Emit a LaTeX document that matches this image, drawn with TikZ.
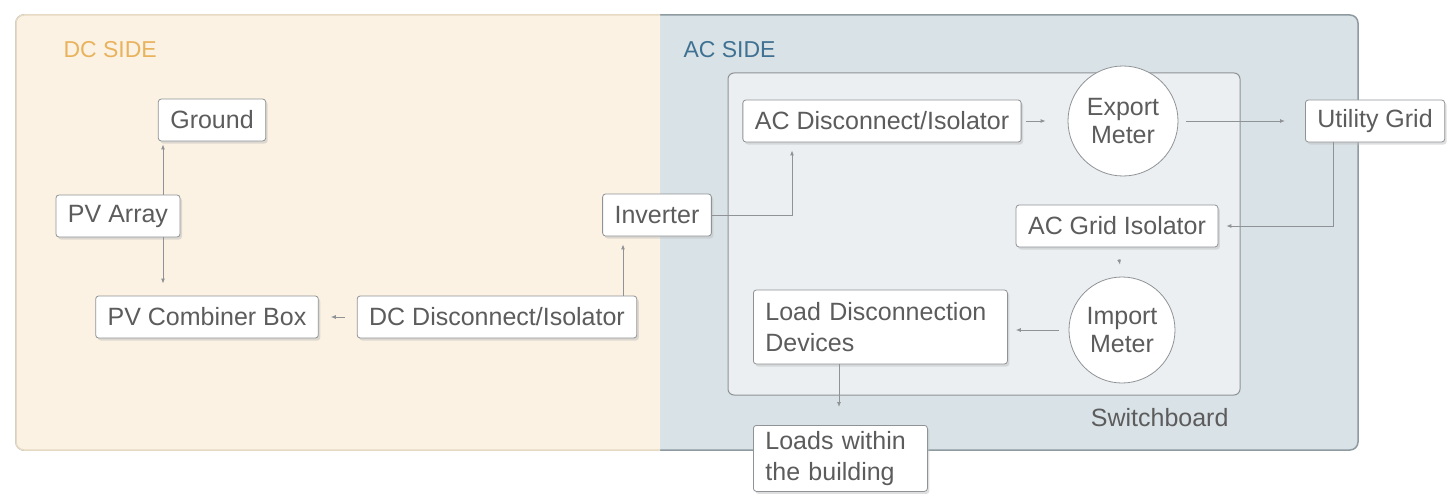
\documentclass[tikz,border=0pt]{standalone}
\usepackage{fontspec}
\setmainfont{Liberation Sans}
\usetikzlibrary{arrows.meta,shadows}
\definecolor{dcfill}{HTML}{FBF2E3}
\definecolor{dcedge}{HTML}{E6DAC4}
\definecolor{acfill}{HTML}{D9E2E6}
\definecolor{acedge}{HTML}{8E9BA1}
\definecolor{sbfill}{HTML}{EBEFF1}
\definecolor{txtgray}{HTML}{5C5C5C}
\definecolor{linegray}{HTML}{8F9396}
\definecolor{dctitle}{HTML}{E9B35E}
\definecolor{actitle}{HTML}{3F7192}
\tikzset{
  unit/.style={draw=linegray, fill=white, rounded corners=3pt, line width=0.8pt,
    inner xsep=12pt, minimum height=42pt, text=txtgray,
    font=\fontsize{25}{31}\selectfont,
    drop shadow={shadow xshift=2pt, shadow yshift=-2.5pt, fill=black!25}},
  meter/.style={circle, draw=linegray, fill=white, line width=0.8pt,
    minimum size=110pt, inner sep=0pt, align=center, text=txtgray,
    font=\fontsize{25}{28}\selectfont},
  title/.style={anchor=west, font=\fontsize{23}{28}\selectfont},
  link/.style={draw=linegray, line width=0.9pt, -{Latex[length=5pt,width=4pt]}, shorten >=8pt}
}
\begin{document}
\begin{tikzpicture}[x=1pt, y=-1pt]
\useasboundingbox (0,0) rectangle (1452,495);
\fill[acfill, rounded corners=8pt] (16,15) rectangle (1358,450);
\draw[acedge, line width=1.5pt, rounded corners=8pt] (16,15) rectangle (1358,450);
\begin{scope}
\clip (0,0) rectangle (660,495);
\fill[dcfill, rounded corners=8pt] (16,15) rectangle (1358,450);
\draw[dcedge, line width=1.5pt, rounded corners=8pt] (16,15) rectangle (1358,450);
\end{scope}
\draw[linegray, fill=sbfill, line width=1pt, rounded corners=6pt] (728,73) rectangle (1240,395);
\node[title, text=dctitle] (dclabel) at (60,50) {DC SIDE};
\node[title, text=actitle] (aclabel) at (680,50) {AC SIDE};
\node[anchor=east, text=txtgray, font=\fontsize{25}{31}\selectfont] (sblabel) at (1232,418) {Switchboard};
\node[unit] (ground) at (212,120) {Ground};
\node[unit] (pv) at (118,216) {PV Array};
\node[unit] (comb) at (207,317) {PV Combiner Box};
\node[unit] (dcdisc) at (497,317) {DC Disconnect/Isolator};
\node[unit] (inv) at (657,215) {Inverter};
\node[unit] (acdisc) at (882,121) {AC Disconnect/Isolator};
\node[meter] (export) at (1123,121) {Export\\Meter};
\node[unit, anchor=west] (grid) at (1305,121) {Utility Grid};
\node[unit] (gridiso) at (1117,226) {AC Grid Isolator};
\node[meter, minimum size=106pt] (import) at (1122,330) {Import\\Meter};
\node[unit, anchor=west, text width=230pt, align=left, minimum height=74pt] (loaddev) at (753,327) {Load Disconnection\\Devices};
\node[unit, anchor=north west, text width=150pt, align=left, minimum height=66pt] (loads) at (753,425) {Loads within\\the building};
\coordinate (pvx) at (163,0);
\coordinate (invx) at (623,0);
\coordinate (acx) at (792,0);
\coordinate (gridx) at (1333,0);
\coordinate (ldx) at (839,0);
\draw[link, shorten >=3pt] (pvx |- pv.north) -- (pvx |- ground.south);
\draw[link, shorten >=12pt] (pvx |- pv.south) -- (pvx |- comb.north);
\draw[link, shorten <=12pt, shorten >=12pt] (dcdisc.west) -- (comb.east);
\draw[link] (invx |- dcdisc.north) -- (invx |- inv.south);
\draw[link] (inv.east) -| (acx |- acdisc.south);
\draw[link, shorten <=4pt, shorten >=22pt] (acdisc.east) -- (export.west);
\draw[link, shorten <=8pt, shorten >=20pt] (export.east) -- (grid.west);
\draw[link] (gridx |- grid.south) |- (gridiso.east);
\draw[link, shorten <=12pt, shorten >=12pt] (gridiso.south) -- (import.north);
\draw[link, shorten <=10pt] (import.west) -- (import.west -| loaddev.east);
\draw[link, shorten >=18pt] (ldx |- loaddev.south) -- (ldx |- loads.north);
\end{tikzpicture}
\end{document}
